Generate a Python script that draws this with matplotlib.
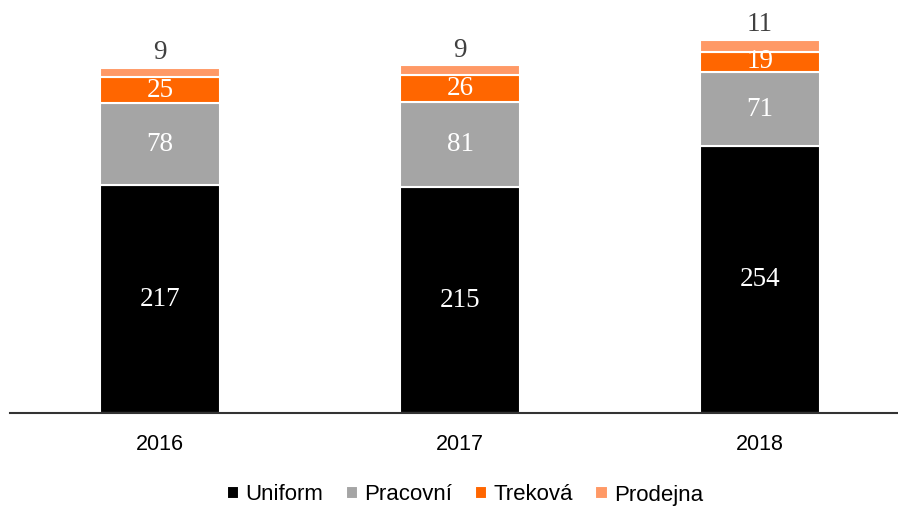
import matplotlib.pyplot as plt
import numpy as np

years = ["2016", "2017", "2018"]
uniform = [217, 215, 254]
pracovni = [78, 81, 71]
trekova = [25, 26, 19]
prodejna = [9, 9, 11]

series = [("Uniform", uniform, "#000000"),
          ("Pracovní", pracovni, "#A5A5A5"),
          ("Treková", trekova, "#FF6600"),
          ("Prodejna", prodejna, "#FF9966")]

fig = plt.figure(figsize=(8.98, 5.08), dpi=100)
ax = fig.add_axes([10 / 898, 1 - 413 / 508, 900 / 898, 413 / 508])

x = np.arange(len(years))
bottom = np.zeros(len(years))
for i, (name, vals, col) in enumerate(series):
    vals = np.array(vals)
    ax.bar(x, vals, 0.4, bottom=bottom, color=col, edgecolor="white",
           linewidth=1.5, label=name)
    for xi, b, v in zip(x, bottom, vals):
        if i < len(series) - 1:
            ax.text(xi, b + v / 2, str(v), ha="center", va="center",
                    color="white", fontsize=19.5, family="Liberation Serif")
        else:
            ax.annotate(str(v), (xi, b + v), xytext=(0, 2),
                        textcoords="offset points", ha="center", va="bottom",
                        color="#404040", fontsize=19.5, family="Liberation Serif")
    bottom += vals

ax.set_xlim(-0.5, 2.5)
ax.set_ylim(0, 413 / 1.05)
for s in ["top", "right", "left"]:
    ax.spines[s].set_visible(False)
ax.spines["bottom"].set_color("#333333")
ax.spines["bottom"].set_linewidth(1.5)
ax.set_yticks([])
ax.set_xticks(x)
ax.set_xticklabels(years, fontsize=15.5, family="Liberation Sans")
ax.tick_params(axis="x", length=0, pad=15)

fig.legend(loc="center", bbox_to_anchor=(465 / 898, 1 - 495 / 508), ncol=4,
           frameon=False, handlelength=0.55, handleheight=0.55,
           handletextpad=0.3, columnspacing=1.0,
           prop={"family": "Liberation Sans", "size": 16})

fig.savefig("out.png", dpi=100)
